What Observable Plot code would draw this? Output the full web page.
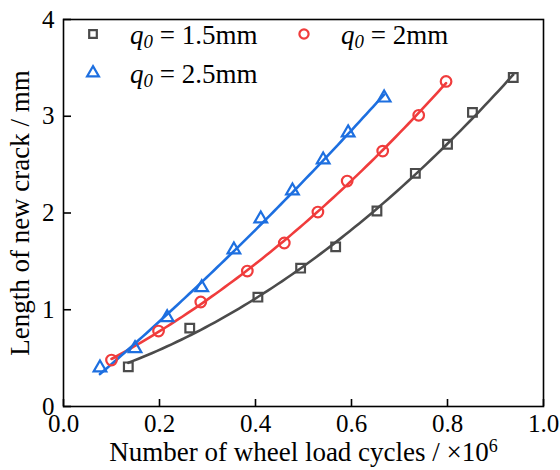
<!DOCTYPE html>
<html><head><meta charset="utf-8">
<script src="https://cdn.jsdelivr.net/npm/d3@7"></script>
<script src="https://cdn.jsdelivr.net/npm/@observablehq/plot@0.6"></script>
<style>
body{margin:0;background:#fff;}
#wrap{position:relative;width:560px;height:470px;font-family:"Liberation Serif","Times New Roman",serif;}
.leg{position:absolute;font-size:27px;line-height:27px;white-space:nowrap;color:#000;}
.leg sub{font-size:0.7em;vertical-align:-0.22em;line-height:0;}
.legsym{position:absolute;}
</style></head><body><div id="wrap"></div>
<script>
// ---- data ----
const seriesNames = ["q0 = 1.5mm", "q0 = 2mm", "q0 = 2.5mm"];
const seriesLabels = ["1.5mm", "2mm", "2.5mm"];
const seriesColors = ["#4b4b4b", "#f03c3c", "#1d6fe0"];
const seriesSymbols = ["square", "circle", "triangle"];

const cycles15 = [0.135, 0.263, 0.405, 0.494, 0.567, 0.653, 0.733, 0.800, 0.852, 0.937];
const crack15  = [0.41, 0.81, 1.13, 1.43, 1.65, 2.02, 2.41, 2.71, 3.04, 3.40];
const cycles20 = [0.100, 0.198, 0.286, 0.383, 0.460, 0.530, 0.591, 0.665, 0.740, 0.797];
const crack20  = [0.48, 0.78, 1.08, 1.40, 1.69, 2.01, 2.33, 2.64, 3.01, 3.36];
const cycles25 = [0.076, 0.149, 0.216, 0.288, 0.355, 0.411, 0.477, 0.541, 0.593, 0.668];
const crack25  = [0.40, 0.60, 0.92, 1.23, 1.62, 1.94, 2.23, 2.55, 2.83, 3.19];

const xTicks = [0, 0.2, 0.4, 0.6, 0.8, 1.0];
const yTicks = [0, 1, 2, 3, 4];
const xTitle = "Number of wheel load cycles / ×10";
const xTitleSup = "6";
const yTitle = "Length of new crack / mm";

// ---- build tables ----
const xs = [cycles15, cycles20, cycles25];
const ys = [crack15, crack20, crack25];
const points = [];
xs.forEach((arr, s) => arr.forEach((x, i) => points.push({series: seriesNames[s], x, y: ys[s][i]})));

// quadratic least-squares fit of each series (the fitted curves of the figure)
function quadFit(X, Y) {
  let S = Array.from({length: 5}, (_, k) => d3.sum(X, x => x ** k));
  let T = Array.from({length: 3}, (_, k) => d3.sum(X, (x, i) => Y[i] * x ** k));
  const A = [[S[0], S[1], S[2], T[0]], [S[1], S[2], S[3], T[1]], [S[2], S[3], S[4], T[2]]];
  for (let c = 0; c < 3; c++) {
    for (let r = c + 1; r < 3; r++) {
      const f = A[r][c] / A[c][c];
      for (let k = c; k < 4; k++) A[r][k] -= f * A[c][k];
    }
  }
  const b = [0, 0, 0];
  for (let r = 2; r >= 0; r--) {
    let v = A[r][3];
    for (let k = r + 1; k < 3; k++) v -= A[r][k] * b[k];
    b[r] = v / A[r][r];
  }
  return x => b[0] + b[1] * x + b[2] * x * x;
}
const fits = [];
xs.forEach((arr, s) => {
  const f = quadFit(arr, ys[s]);
  const [lo, hi] = d3.extent(arr);
  const n = 80;
  for (let i = 0; i <= n; i++) {
    const x = lo + (hi - lo) * i / n;
    fits.push({series: seriesNames[s], x, y: f(x)});
  }
});

const font = "Liberation Serif, Times New Roman, serif";
const plot = Plot.plot({
  width: 560, height: 470,
  marginLeft: 63, marginRight: 17, marginTop: 19, marginBottom: 64,
  style: {fontFamily: font, fontSize: "25px", color: "#000", background: "#fff", overflow: "visible"},
  x: {domain: [0, 1]},
  y: {domain: [0, 4]},
  color: {domain: seriesNames, range: seriesColors},
  symbol: {domain: seriesNames, range: seriesSymbols},
  marks: [
    Plot.axisX(xTicks, {tickSize: 0, tickPadding: 8, tickFormat: d => d.toFixed(1), label: null, fontSize: 25}),
    Plot.axisX(xTicks, {tickSize: -7, tickFormat: () => "", label: null, strokeWidth: 1.6}),
    Plot.axisY(yTicks, {tickSize: 0, tickPadding: 9, tickFormat: d => String(d), label: null, fontSize: 25}),
    Plot.axisY(yTicks, {tickSize: -8, tickFormat: () => "", label: null, strokeWidth: 1.6}),
    Plot.line(fits, {x: "x", y: "y", z: "series", stroke: "series", strokeWidth: 2.6}),
    Plot.dot(points.filter(d => d.series === seriesNames[0]), {x: "x", y: "y", symbol: "series", stroke: "series", fill: "white", fillOpacity: 0, r: 4.9, strokeWidth: 2.2}),
    Plot.dot(points.filter(d => d.series === seriesNames[1]), {x: "x", y: "y", symbol: "series", stroke: "series", fill: "white", fillOpacity: 0, r: 5.3, strokeWidth: 2.2}),
    Plot.dot(points.filter(d => d.series === seriesNames[2]), {x: "x", y: "y", symbol: "series", stroke: "series", fill: "white", fillOpacity: 0, r: 4.7, strokeWidth: 2.2}),
    Plot.frame({stroke: "#000", strokeWidth: 1.6}),
    Plot.text([xTitle], {frameAnchor: "bottom", dy: 54, fontSize: 27, fill: "#000", textAnchor: "middle"}),
    Plot.text([yTitle], {frameAnchor: "left", dx: -43, rotate: -90, fontSize: 27, fill: "#000", textAnchor: "middle"})
  ]
});
const wrap = document.getElementById("wrap");
wrap.appendChild(plot);

// superscript on x title
d3.select(plot).selectAll("text").filter(function() { return this.textContent === xTitle; })
  .each(function() {
    d3.select(this).append("tspan").attr("dy", "-0.45em").attr("font-size", "18px").text(xTitleSup);
  });

// legend (inside the plot area, top-left)
const legPos = [
  {sx: 93, sy: 34, tx: 130, top: 21.5, r: 4.3},
  {sx: 304, sy: 34, tx: 341, top: 21.5, r: 4.6},
  {sx: 93, sy: 73, tx: 130, top: 60.5, r: 4.4}
];
seriesNames.forEach((name, s) => {
  const p = legPos[s];
  const sym = {square: d3.symbolSquare, circle: d3.symbolCircle, triangle: d3.symbolTriangle}[seriesSymbols[s]];
  const svg = d3.select(wrap).append("svg").attr("class", "legsym")
    .attr("width", 24).attr("height", 24)
    .style("left", (p.sx - 12) + "px").style("top", (p.sy - 12) + "px");
  svg.append("path").attr("transform", "translate(12,12)")
    .attr("d", d3.symbol(sym, Math.PI * p.r * p.r)())
    .attr("fill", "none").attr("stroke", seriesColors[s]).attr("stroke-width", 2.2);
  const div = d3.select(wrap).append("div").attr("class", "leg")
    .style("left", p.tx + "px").style("top", p.top + "px");
  div.html(`<i>q<sub>0</sub></i> = ${seriesLabels[s]}`);
});
</script></body></html>
